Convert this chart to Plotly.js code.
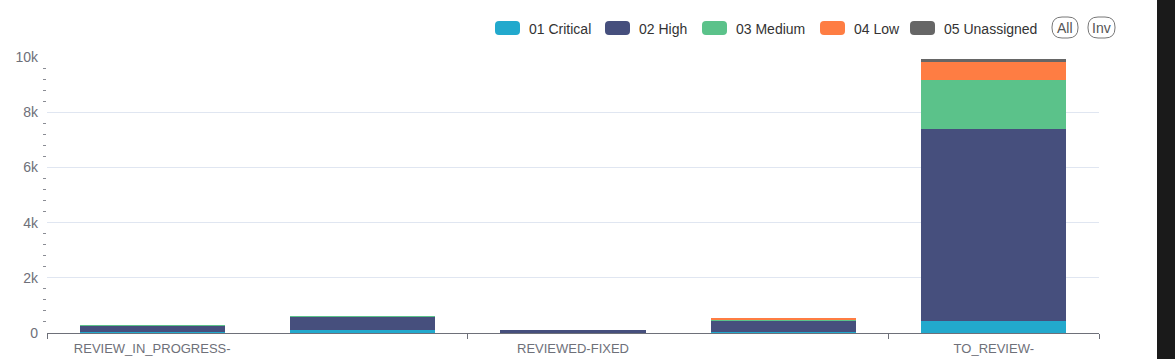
<!DOCTYPE html>
<html>
<head>
<meta charset="utf-8">
<script src="https://cdn.plot.ly/plotly-3.0.1.min.js"></script>
<style>html,body{margin:0;padding:0;background:#fff;}#chart{width:1175px;height:359px;}</style>
</head>
<body>
<div id="chart"></div>
<script>
// ---- data ----
const categories = [0, 1, 2, 3, 4];
const categoryLabels = ["REVIEW_IN_PROGRESS-", "", "REVIEWED-FIXED", "", "TO_REVIEW-"];
const seriesNames = ["01 Critical", "02 High", "03 Medium", "04 Low", "05 Unassigned"];
const critical   = [50, 110, 10, 30, 445];
const high       = [220, 470, 100, 430, 6945];
const medium     = [5, 30, 0, 35, 1775];
const low        = [0, 0, 0, 55, 650];
const unassigned = [0, 0, 0, 0, 100];
const seriesColors = ["#22A9CD", "#464F7D", "#5BC28A", "#FE7D43", "#666666"];
const yTickVals = [0, 2000, 4000, 6000, 8000, 10000];
const yTickText = ["0", "2k", "4k", "6k", "8k", "10k"];

const allSeries = [critical, high, medium, low, unassigned];

// ---- geometry helpers ----
const W = 1175, H = 359;
const M = {l: 47, r: 76, t: 57, b: 26};
const PW = W - M.l - M.r, PH = H - M.t - M.b;
const px = x => (x - M.l) / PW;
const py = y => (H - M.b - y) / PH;

function roundRect(x0, y0, x1, y1, r) {
  const X0 = px(x0), X1 = px(x1), Y0 = py(y0), Y1 = py(y1);
  const rx = r / PW, ry = r / PH;
  return `M ${X0 + rx} ${Y0} L ${X1 - rx} ${Y0} Q ${X1} ${Y0} ${X1} ${Y0 - ry} ` +
         `L ${X1} ${Y1 + ry} Q ${X1} ${Y1} ${X1 - rx} ${Y1} L ${X0 + rx} ${Y1} ` +
         `Q ${X0} ${Y1} ${X0} ${Y1 + ry} L ${X0} ${Y0 - ry} Q ${X0} ${Y0} ${X0 + rx} ${Y0} Z`;
}

const traces = allSeries.map((vals, i) => ({
  type: "bar",
  name: seriesNames[i],
  x: categories,
  y: vals,
  marker: {color: seriesColors[i], line: {width: 0}},
  width: 0.69,
  hoverinfo: "x+y+name"
}));

// minor tick positions on y (between labelled ticks)
const yMinor = [];
for (let v = 400; v < 10000; v += 400) { if (v % 2000 !== 0) yMinor.push(v); }

// custom legend
const legendSwatchX = [495, 605, 702, 820, 910];
const shapes = [];
const annotations = [];
const FONT = "Liberation Sans, Arial, sans-serif";
seriesNames.forEach((n, i) => {
  const x0 = legendSwatchX[i];
  shapes.push({type: "path", xref: "paper", yref: "paper", path: roundRect(x0, 21, x0 + 25, 35, 4),
    fillcolor: seriesColors[i], line: {width: 0}});
  annotations.push({xref: "paper", yref: "paper", x: px(x0 + 32), y: py(28.5), xanchor: "left", yanchor: "middle",
    text: n, showarrow: false, font: {family: FONT, size: 14, color: "#333"}});
});
// All / Inv selectors
[["All", 1052, 1078], ["Inv", 1088, 1115]].forEach(([t, a, b]) => {
  shapes.push({type: "path", xref: "paper", yref: "paper", path: roundRect(a, 17, b, 38, 10),
    fillcolor: "rgba(0,0,0,0)", line: {width: 1, color: "#777"}});
  annotations.push({xref: "paper", yref: "paper", x: px((a + b) / 2), y: py(28), xanchor: "center", yanchor: "middle",
    text: t, showarrow: false, font: {family: FONT, size: 14, color: "#555"}});
});
// dark strip on the right
shapes.push({type: "rect", xref: "paper", yref: "paper", x0: px(1157), x1: px(1176), y0: py(360), y1: py(-1),
  fillcolor: "#1a1a1a", line: {width: 0}, layer: "above"});

const layout = {
  width: W, height: H,
  margin: M,
  barmode: "stack",
  showlegend: false,
  paper_bgcolor: "#fff",
  plot_bgcolor: "#fff",
  font: {family: FONT, size: 12, color: "#6E7079"},
  xaxis: {
    range: [-0.5, 4.5],
    tickmode: "array", tickvals: [0, 2, 4], ticktext: [categoryLabels[0], categoryLabels[2], categoryLabels[4]],
    ticks: "", showgrid: false, zeroline: false,
    showline: true, linecolor: "#6E7079", linewidth: 1,
    tickfont: {family: FONT, size: 13, color: "#6E7079"},
    ticklabelstandoff: 3,
    minor: {tickmode: "array", tickvals: [-0.5, 1.5, 3.5, 4.5], ticks: "outside", ticklen: 5, tickcolor: "#6E7079", showgrid: false},
    fixedrange: true
  },
  yaxis: {
    range: [0, 10000],
    tickmode: "array", tickvals: yTickVals, ticktext: yTickText,
    ticks: "", showgrid: true, gridcolor: "#E0E6F1", gridwidth: 1,
    zeroline: false, showline: false,
    tickfont: {family: FONT, size: 14, color: "#6E7079"},
    ticklabelstandoff: 8,
    minor: {tickmode: "array", tickvals: yMinor, ticks: "outside", ticklen: 3, tickcolor: "#8a8c94", showgrid: false},
    fixedrange: true
  },
  shapes: shapes,
  annotations: annotations
};

Plotly.newPlot("chart", traces, layout, {displayModeBar: false});
</script>
</body>
</html>
